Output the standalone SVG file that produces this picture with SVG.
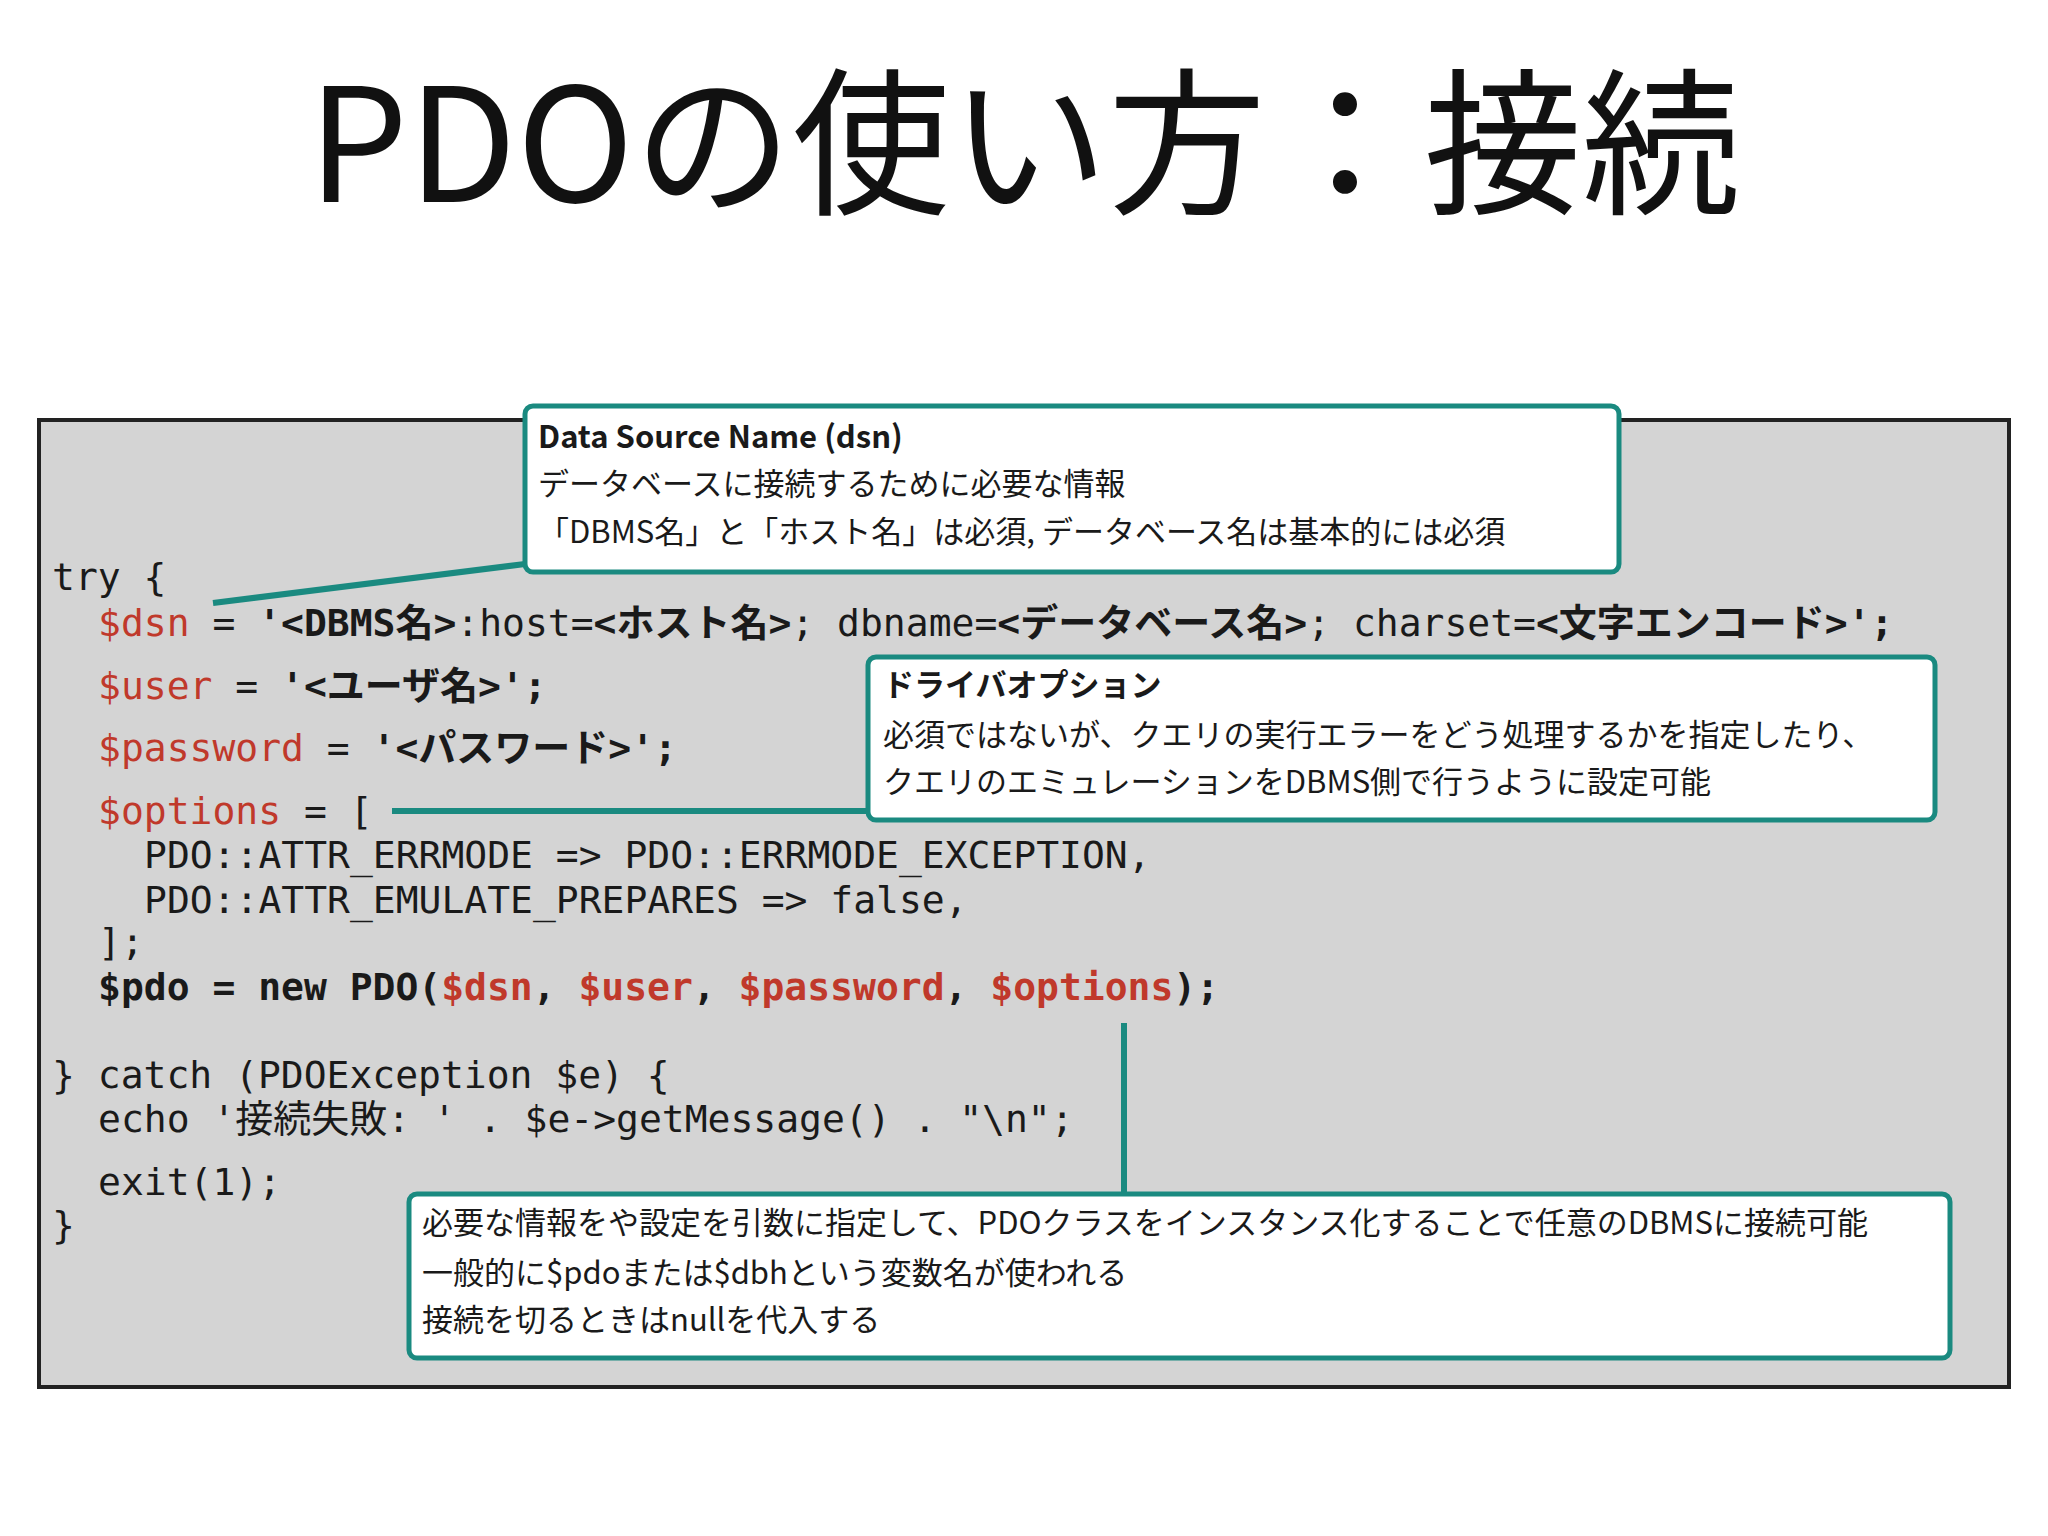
<svg xmlns="http://www.w3.org/2000/svg" width="2048" height="1536" viewBox="0 0 2048 1536">
<style>
.code{font-family:"DejaVu Sans Mono","Noto Sans CJK JP",monospace;font-size:38px;fill:#1a1a1a}
.v{fill:#c0392b}
.b{font-weight:bold}
.box{fill:#fff;stroke:#1a8a80;stroke-width:5}
.t{font-family:"Noto Sans CJK JP",sans-serif;font-size:31px;fill:#1a1a1a}
.conn{stroke:#1a8a80;stroke-width:6;fill:none}
</style>
<rect width="2048" height="1536" fill="#fff"/>
<text x="1024" y="202" text-anchor="middle" font-family="Noto Sans CJK JP,sans-serif" font-size="158" fill="#111">PDOの使い方：接続</text>
<rect x="39" y="420" width="1970" height="967" fill="#d4d4d4" stroke="#222" stroke-width="4"/>
<g id="code" class="code" xml:space="preserve">
<text x="52" y="590">try {</text>
<text x="98" y="636"><tspan class="v">$dsn</tspan> = <tspan class="b">'&lt;DBMS名&gt;</tspan>:host=<tspan class="b">&lt;ホスト名&gt;</tspan>; dbname=<tspan class="b">&lt;データベース名&gt;</tspan>; charset=<tspan class="b">&lt;文字エンコード&gt;';</tspan></text>
<text x="98" y="699"><tspan class="v">$user</tspan> = <tspan class="b">'&lt;ユーザ名&gt;';</tspan></text>
<text x="98" y="761"><tspan class="v">$password</tspan> = <tspan class="b">'&lt;パスワード&gt;';</tspan></text>
<text x="98" y="824"><tspan class="v">$options</tspan> = [</text>
<text x="144" y="868">PDO::ATTR_ERRMODE =&gt; PDO::ERRMODE_EXCEPTION,</text>
<text x="144" y="913">PDO::ATTR_EMULATE_PREPARES =&gt; false,</text>
<text x="98" y="955">];</text>
<text x="98" y="1000" class="b">$pdo = new PDO(<tspan class="v">$dsn</tspan>, <tspan class="v">$user</tspan>, <tspan class="v">$password</tspan>, <tspan class="v">$options</tspan>);</text>
<text x="52" y="1088">} catch (PDOException $e) {</text>
<text x="98" y="1132">echo '接続失敗: ' . $e-&gt;getMessage() . "\n";</text>
<text x="98" y="1195">exit(1);</text>
<text x="52" y="1238">}</text>
</g>
<g id="connectors">
<line class="conn" x1="213" y1="603" x2="525" y2="564"/>
<line class="conn" x1="392" y1="811" x2="868" y2="811"/>
<line class="conn" x1="1124" y1="1023" x2="1124" y2="1194"/>
</g>
<g id="dsn">
<rect class="box" x="525" y="406" width="1094" height="166" rx="8"/>
<text class="t" x="538" y="448" font-weight="bold">Data Source Name (dsn)</text>
<text class="t" x="538" y="495">データベースに接続するために必要な情報</text>
<text class="t" x="538" y="543">「DBMS名」と「ホスト名」は必須, データベース名は基本的には必須</text>
</g>
<g id="driver">
<rect class="box" x="868" y="657" width="1067" height="163" rx="8"/>
<text class="t" x="883" y="696" font-weight="bold">ドライバオプション</text>
<text class="t" x="883" y="746">必須ではないが、クエリの実行エラーをどう処理するかを指定したり、</text>
<text class="t" x="883" y="793">クエリのエミュレーションをDBMS側で行うように設定可能</text>
</g>
<g id="pdo">
<rect class="box" x="409" y="1194" width="1541" height="164" rx="8"/>
<text class="t" x="422" y="1234">必要な情報をや設定を引数に指定して、PDOクラスをインスタンス化することで任意のDBMSに接続可能</text>
<text class="t" x="422" y="1284">一般的に$pdoまたは$dbhという変数名が使われる</text>
<text class="t" x="422" y="1331">接続を切るときはnullを代入する</text>
</g>
</svg>
